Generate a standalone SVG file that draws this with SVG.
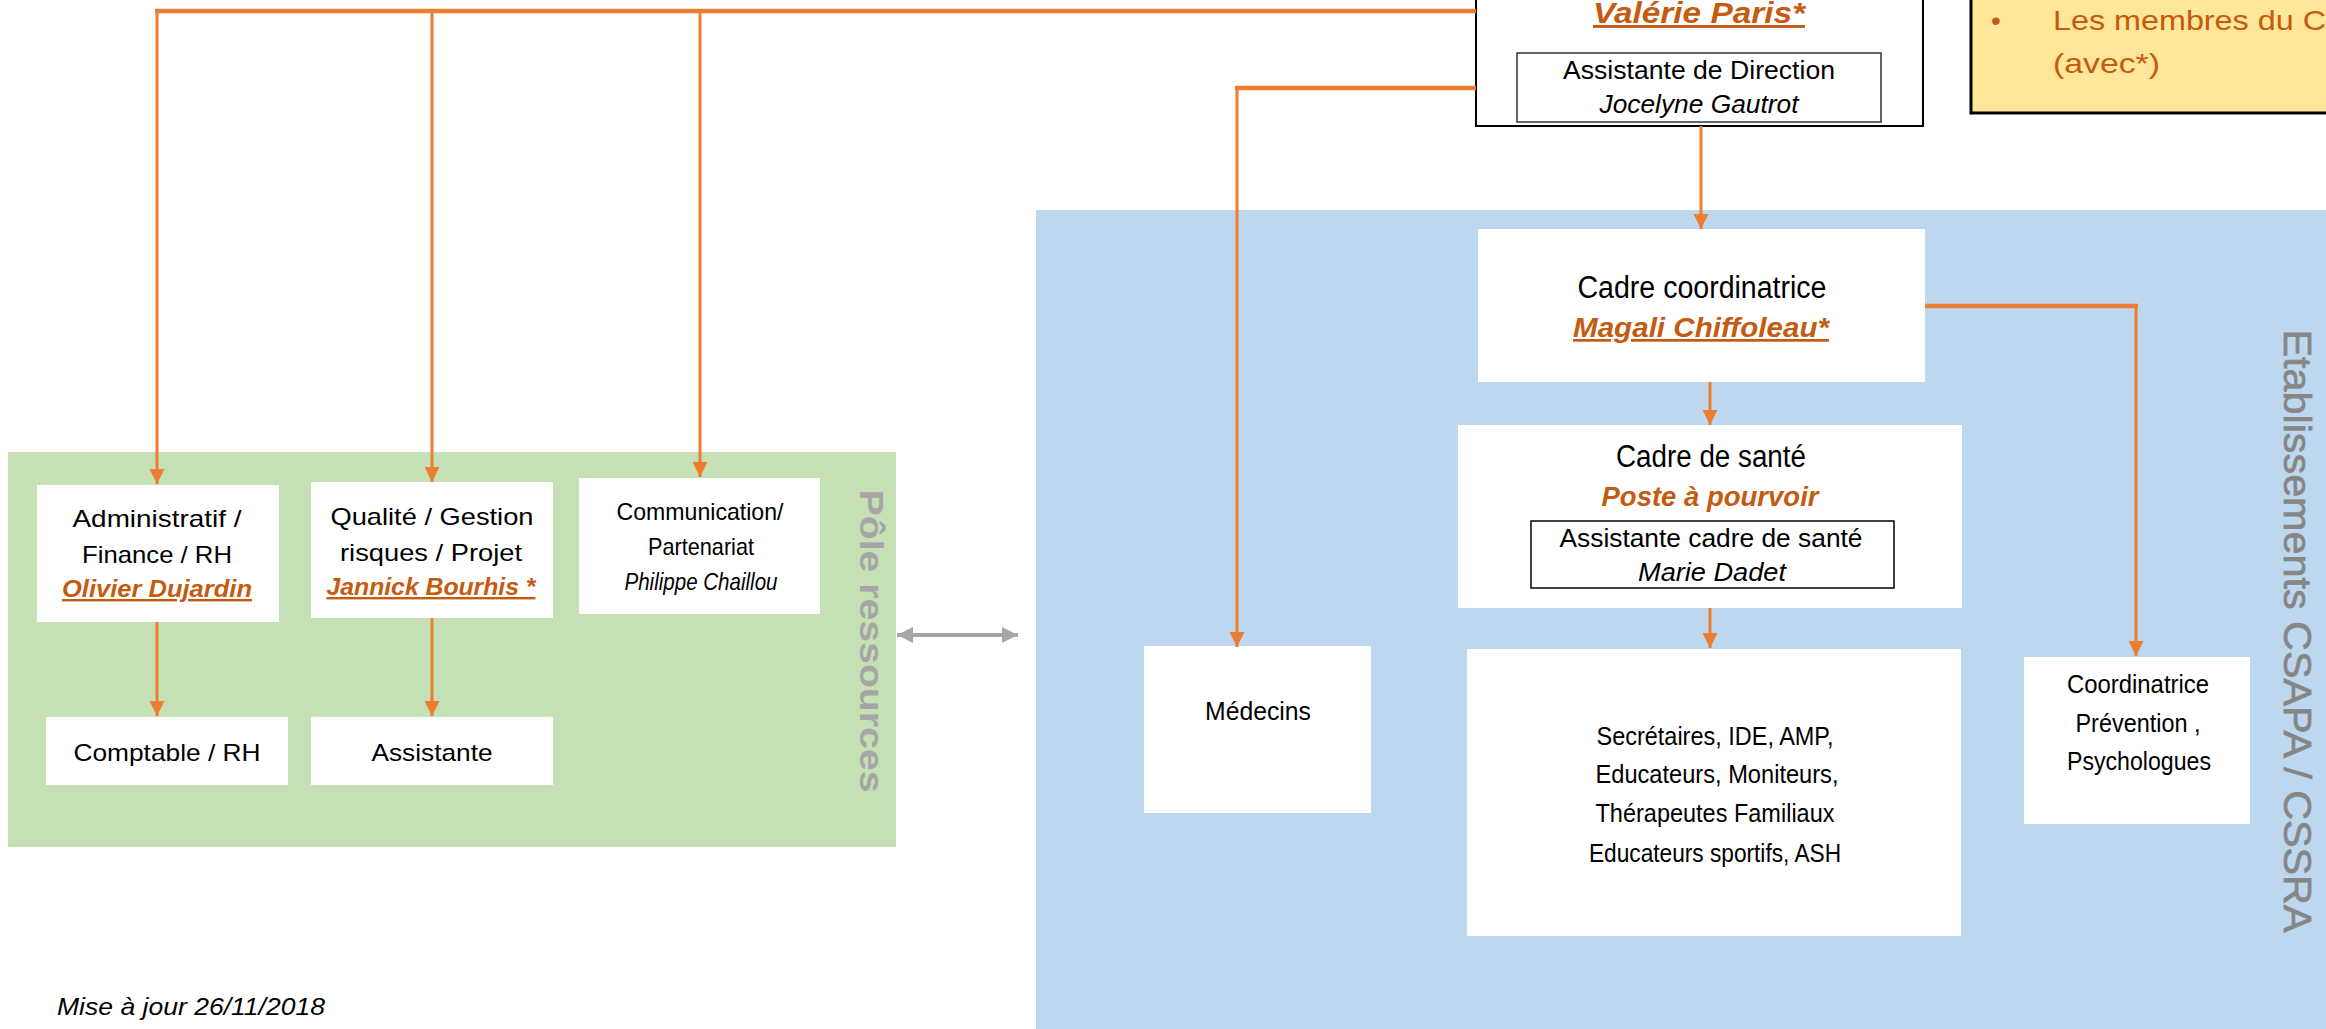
<svg xmlns="http://www.w3.org/2000/svg" width="2326" height="1029" viewBox="0 0 2326 1029">
<defs>
<style>
text{font-family:"Liberation Sans",Arial,sans-serif;fill:#000;}
.c{text-anchor:middle;}
.n{font-size:24px;}
.l{font-size:31px;}
.it{font-style:italic;}
.nm{font-weight:bold;font-style:italic;fill:#C55A11;}
.ul{text-decoration:underline;}
.box{fill:#fff;}
.inner{fill:#fff;stroke:#333;stroke-width:1.5;}
.h{stroke:#ED7D31;stroke-width:4.5;fill:none;}
.v{stroke:#ED7D31;stroke-width:3;fill:none;}
.side{fill:#A6A6A6;font-weight:bold;}
.note{fill:#C55A11;font-size:28px;}
</style>
<marker id="ar" markerUnits="userSpaceOnUse" markerWidth="15" markerHeight="15" viewBox="0 0 15 15" refX="15" refY="7.5" orient="auto">
<path d="M0,0 L15,7.5 L0,15 z" fill="#ED7D31"/>
</marker>
<marker id="ag" markerUnits="userSpaceOnUse" markerWidth="16" markerHeight="16" viewBox="0 0 16 16" refX="16" refY="8" orient="auto-start-reverse">
<path d="M0,0 L16,8 L0,16 z" fill="#A6A6A6"/>
</marker>
</defs>
<rect width="2326" height="1029" fill="#fff"/>

<g id="pole-ressources">
<rect x="8" y="452" width="888" height="395" fill="#C5E0B4"/>
<text class="side" font-size="34" textLength="303" lengthAdjust="spacingAndGlyphs" text-anchor="middle" transform="translate(860,641) rotate(90)">Pôle ressources</text>
</g>

<g id="etablissements">
<rect x="1036" y="210" width="1300" height="830" fill="#BDD7EE"/>
<text font-size="39" style="fill:#868686;stroke:#868686;stroke-width:0.7" textLength="603" lengthAdjust="spacingAndGlyphs" text-anchor="middle" transform="translate(2284,631) rotate(90)">Etablissements CSAPA / CSSRA</text>
</g>

<g id="direction">
<rect x="1476" y="-20" width="447" height="146" fill="#fff" stroke="#000" stroke-width="2"/>
<text class="c nm ul" x="1699" y="23" font-size="29" textLength="212" lengthAdjust="spacingAndGlyphs">Valérie Paris*</text>
<rect class="inner" x="1517" y="53" width="364" height="69"/>
<text class="c" x="1699" y="79" font-size="25" textLength="272" lengthAdjust="spacingAndGlyphs">Assistante de Direction</text>
<text class="c it" x="1699" y="113" font-size="25" textLength="199" lengthAdjust="spacingAndGlyphs">Jocelyne Gautrot</text>
</g>

<g id="note">
<rect x="1971" y="-20" width="400" height="133" fill="#FFE699" stroke="#000" stroke-width="3"/>
<text class="note" x="1991" y="30">•</text>
<text class="note" x="2053" y="30" textLength="273" lengthAdjust="spacingAndGlyphs">Les membres du C</text>
<text class="note" x="2053" y="73" textLength="107" lengthAdjust="spacingAndGlyphs">(avec*)</text>
</g>

<g id="admin">
<rect class="box" x="37" y="485" width="242" height="137"/>
<text class="c n" x="157" y="527" textLength="169" lengthAdjust="spacingAndGlyphs">Administratif /</text>
<text class="c n" x="157" y="563" textLength="150" lengthAdjust="spacingAndGlyphs">Finance / RH</text>
<text class="c n nm ul" x="157" y="597" textLength="190" lengthAdjust="spacingAndGlyphs">Olivier Dujardin</text>
</g>

<g id="qualite">
<rect class="box" x="311" y="482" width="242" height="136"/>
<text class="c n" x="432" y="525" textLength="203" lengthAdjust="spacingAndGlyphs">Qualité / Gestion</text>
<text class="c n" x="431" y="561" textLength="182" lengthAdjust="spacingAndGlyphs">risques / Projet</text>
<text class="c n nm ul" x="431" y="595" textLength="209" lengthAdjust="spacingAndGlyphs">Jannick Bourhis *</text>
</g>

<g id="communication">
<rect class="box" x="579" y="478" width="241" height="136"/>
<text class="c n" x="700" y="520" textLength="167" lengthAdjust="spacingAndGlyphs">Communication/</text>
<text class="c n" x="701" y="555" textLength="106" lengthAdjust="spacingAndGlyphs">Partenariat</text>
<text class="c n it" x="701" y="590" textLength="153" lengthAdjust="spacingAndGlyphs">Philippe Chaillou</text>
</g>

<g id="comptable">
<rect class="box" x="46" y="717" width="242" height="68"/>
<text class="c n" x="167" y="761" textLength="187" lengthAdjust="spacingAndGlyphs">Comptable / RH</text>
</g>

<g id="assistante">
<rect class="box" x="311" y="717" width="242" height="68"/>
<text class="c n" x="432" y="761" textLength="121" lengthAdjust="spacingAndGlyphs">Assistante</text>
</g>

<g id="cadre-coordinatrice">
<rect class="box" x="1478" y="229" width="447" height="153"/>
<text class="c l" x="1702" y="298" textLength="249" lengthAdjust="spacingAndGlyphs">Cadre coordinatrice</text>
<text class="c nm ul" x="1701" y="337" font-size="27" textLength="256" lengthAdjust="spacingAndGlyphs">Magali Chiffoleau*</text>
</g>

<g id="cadre-sante">
<rect class="box" x="1458" y="425" width="504" height="183"/>
<text class="c l" x="1711" y="467" textLength="190" lengthAdjust="spacingAndGlyphs">Cadre de santé</text>
<text class="c nm" x="1710" y="506" font-size="27" textLength="217" lengthAdjust="spacingAndGlyphs">Poste à pourvoir</text>
<rect x="1531" y="521" width="363" height="67" fill="#fff" stroke="#000" stroke-width="1.5"/>
<text class="c" x="1711" y="547" font-size="25" textLength="303" lengthAdjust="spacingAndGlyphs">Assistante cadre de santé</text>
<text class="c it" x="1712" y="581" font-size="25" textLength="148" lengthAdjust="spacingAndGlyphs">Marie Dadet</text>
</g>

<g id="medecins">
<rect class="box" x="1144" y="646" width="227" height="167"/>
<text class="c" x="1258" y="720" font-size="25" textLength="106" lengthAdjust="spacingAndGlyphs">Médecins</text>
</g>

<g id="equipe">
<rect class="box" x="1467" y="649" width="494" height="287"/>
<text class="c" x="1715" y="745" font-size="25" textLength="237" lengthAdjust="spacingAndGlyphs">Secrétaires, IDE, AMP,</text>
<text class="c" x="1717" y="783" font-size="25" textLength="243" lengthAdjust="spacingAndGlyphs">Educateurs, Moniteurs,</text>
<text class="c" x="1715" y="822" font-size="25" textLength="239" lengthAdjust="spacingAndGlyphs">Thérapeutes Familiaux</text>
<text class="c" x="1715" y="862" font-size="25" textLength="252" lengthAdjust="spacingAndGlyphs">Educateurs sportifs, ASH</text>
</g>

<g id="coordinatrice-prevention">
<rect class="box" x="2024" y="657" width="226" height="167"/>
<text class="c" x="2138" y="693" font-size="25" textLength="142" lengthAdjust="spacingAndGlyphs">Coordinatrice</text>
<text class="c" x="2138" y="732" font-size="25" textLength="125" lengthAdjust="spacingAndGlyphs">Prévention ,</text>
<text class="c" x="2139" y="770" font-size="25" textLength="144" lengthAdjust="spacingAndGlyphs">Psychologues</text>
</g>

<g id="mise-a-jour">
<text class="it" x="57" y="1015" font-size="24" textLength="268" lengthAdjust="spacingAndGlyphs">Mise à jour 26/11/2018</text>
</g>

<g id="connectors">
<line class="h" x1="155" y1="11" x2="1476" y2="11"/>
<line class="v" x1="157" y1="9" x2="157" y2="484" marker-end="url(#ar)"/>
<line class="v" x1="432" y1="11" x2="432" y2="482" marker-end="url(#ar)"/>
<line class="v" x1="700" y1="11" x2="700" y2="477" marker-end="url(#ar)"/>
<line class="h" x1="1235" y1="88" x2="1476" y2="88"/>
<line class="v" x1="1237" y1="86" x2="1237" y2="647" marker-end="url(#ar)"/>
<line class="v" x1="1701" y1="126" x2="1701" y2="229" marker-end="url(#ar)"/>
<line class="v" x1="1710" y1="382" x2="1710" y2="425" marker-end="url(#ar)"/>
<line class="v" x1="1710" y1="608" x2="1710" y2="648" marker-end="url(#ar)"/>
<line class="h" x1="1925" y1="306" x2="2138" y2="306"/>
<line class="v" x1="2136" y1="304" x2="2136" y2="656" marker-end="url(#ar)"/>
<line class="v" x1="157" y1="622" x2="157" y2="716" marker-end="url(#ar)"/>
<line class="v" x1="432" y1="618" x2="432" y2="716" marker-end="url(#ar)"/>
<line x1="897" y1="635" x2="1018" y2="635" stroke="#A6A6A6" stroke-width="4" marker-start="url(#ag)" marker-end="url(#ag)"/>
</g>
</svg>
